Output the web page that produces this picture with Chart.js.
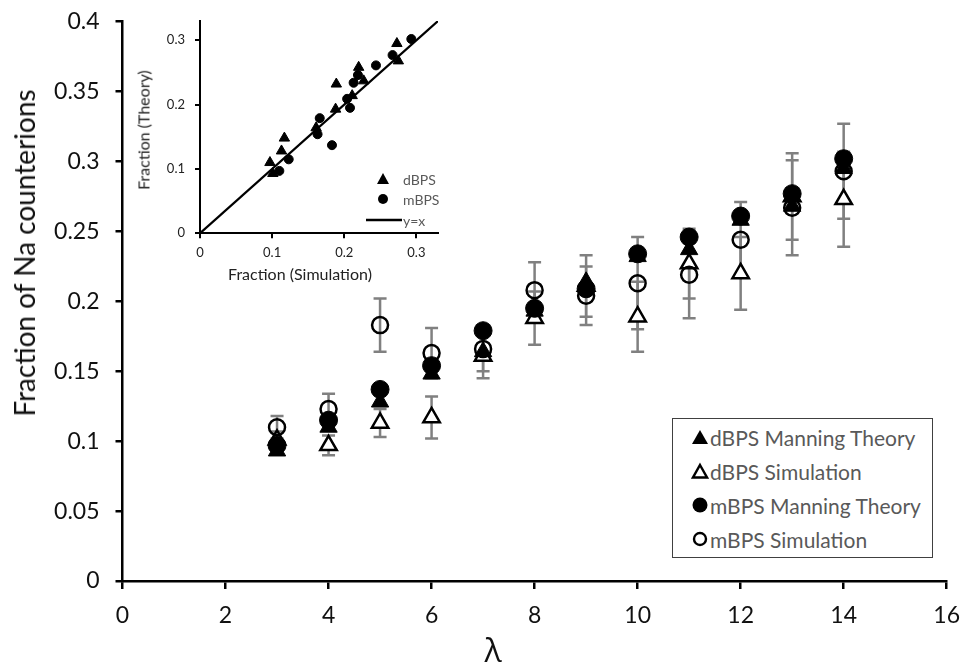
<!DOCTYPE html>
<html>
<head>
<meta charset="utf-8">
<title>Fraction of Na counterions</title>
<script src="https://cdn.jsdelivr.net/npm/chart.js@4.4.1/dist/chart.umd.min.js"></script>
<style>
  body { margin: 0; background: #fff; font-family: Lato, 'Open Sans', sans-serif; }
  #wrap { position: relative; width: 963px; height: 663px; overflow: hidden; }
  #mainBox { position: absolute; left: 0; top: 0; width: 963px; height: 663px; }
  #insetBox { position: absolute; left: 0; top: 0; width: 460px; height: 300px; pointer-events: none; }
  .lbl { position: absolute; white-space: nowrap; transform: translate(-50%, -50%); }
  .rot { transform: translate(-50%, -50%) rotate(-90deg); }
  #legend { position: absolute; left: 672px; top: 418px; width: 259px; height: 138px;
            border: 1.5px solid #404040; background: #fff; }
  #legend .row { position: absolute; left: 18px; height: 30px; display: flex; align-items: center;
                 font-size: 21px; color: #595959; }
  #legend svg { margin-right: 1px; }
  .mini { position: absolute; display: flex; align-items: center; font-size: 14px; color: #595959; }
</style>
</head>
<body>
<div id="wrap">
  <div id="mainBox"><canvas id="mainChart"></canvas></div>
  <div id="insetBox"><canvas id="insetChart"></canvas></div>

  <div class="lbl rot" style="left:24px; top:253px; font-size:28px; color:#111;">Fraction of Na counterions</div>
  <div class="lbl" style="left:493px; top:649px; font-size:32px; font-family:'Open Sans', sans-serif; color:#111;">λ</div>

  <div class="lbl rot" style="left:143px; top:130px; font-size:16px; color:#222;">Fraction (Theory)</div>
  <div class="lbl" style="left:300px; top:273px; font-size:16px; color:#222;">Fraction (Simulation)</div>

  <div class="mini" style="left:376px; top:169px; height:20px;">
    <svg width="14" height="14"><polygon points="7,1 13,12 1,12" fill="#000"/></svg>
    <span style="margin-left:13px;">dBPS</span>
  </div>
  <div class="mini" style="left:376px; top:189px; height:20px;">
    <svg width="14" height="14"><circle cx="7" cy="7" r="5" fill="#000"/></svg>
    <span style="margin-left:13px;">mBPS</span>
  </div>
  <div class="mini" style="left:366px; top:210px; height:20px;">
    <svg width="36" height="6"><line x1="0" y1="3" x2="36" y2="3" stroke="#000" stroke-width="2.5"/></svg>
    <span style="margin-left:1px;">y=x</span>
  </div>

  <div id="legend">
    <div class="row" style="top:3px;">
      <svg width="18" height="18"><polygon points="9,2 17,16 1,16" fill="#000"/></svg>dBPS Manning Theory
    </div>
    <div class="row" style="top:37px;">
      <svg width="18" height="18"><polygon points="9,3 16,15.5 2,15.5" fill="#fff" stroke="#000" stroke-width="2.4" stroke-linejoin="miter"/></svg>dBPS Simulation
    </div>
    <div class="row" style="top:71px;">
      <svg width="18" height="18"><circle cx="9" cy="9" r="7.5" fill="#000"/></svg>mBPS Manning Theory
    </div>
    <div class="row" style="top:105px;">
      <svg width="18" height="18"><circle cx="9" cy="9" r="6" fill="none" stroke="#000" stroke-width="2.4"/></svg>mBPS Simulation
    </div>
  </div>
</div>

<script>
(function () {
  'use strict';

  // line charge density (lambda) for each system
  var lambdaValues = [3, 4, 5, 6, 7, 8, 9, 10, 11, 12, 13, 14];

  // fraction of condensed Na counterions
  var dbpsTheory = [0.093, 0.110, 0.128, 0.148, 0.164, 0.193, 0.214, 0.232, 0.237, 0.258, 0.268, 0.295];
  var dbpsSim = [0.101, 0.097, 0.113, 0.117, 0.161, 0.188, 0.211, 0.189, 0.227, 0.220, 0.275, 0.273];
  var dbpsSimErr = [0.006, 0.007, 0.010, 0.015, 0.016, 0.019, 0.022, 0.025, 0.025, 0.026, 0.031, 0.034];
  var mbpsTheory = [0.097, 0.115, 0.137, 0.154, 0.179, 0.195, 0.209, 0.234, 0.246, 0.261, 0.277, 0.302];
  var mbpsSim = [0.110, 0.123, 0.183, 0.163, 0.166, 0.208, 0.204, 0.213, 0.219, 0.244, 0.267, 0.293];
  var mbpsSimErr = [0.008, 0.011, 0.019, 0.018, 0.016, 0.020, 0.021, 0.033, 0.031, 0.027, 0.034, 0.034];

  // axis ticks
  var mainXTicks = [0, 2, 4, 6, 8, 10, 12, 14, 16];
  var mainYTicks = [0, 0.05, 0.1, 0.15, 0.2, 0.25, 0.3, 0.35, 0.4];
  var insetTicks = [0, 0.1, 0.2, 0.3];
  var identityLine = [0, 0.33];

  function points(xs, ys) {
    return xs.map(function (x, i) { return { x: x, y: ys[i] }; });
  }

  function formatTick(value) {
    return String(parseFloat(Number(value).toFixed(2)));
  }

  function keepTicks(list) {
    return function (scale) {
      scale.ticks = list.map(function (v) { return { value: v }; });
    };
  }

  // fixed axis box size, no extra room for overhanging labels
  function fixedSize(prop, size) {
    return function (scale) {
      scale[prop] = size;
      scale.paddingLeft = 0;
      scale.paddingRight = 0;
      scale.paddingTop = 0;
      scale.paddingBottom = 0;
    };
  }

  var errorBarPlugin = {
    id: 'errorBars',
    beforeDatasetsDraw: function (chart) {
      var ctx = chart.ctx;
      var xScale = chart.scales.x;
      var yScale = chart.scales.y;
      chart.data.datasets.forEach(function (ds) {
        if (!ds.errorBars) return;
        ctx.save();
        ctx.strokeStyle = '#808080';
        ctx.lineWidth = 2.5;
        ds.data.forEach(function (pt, i) {
          var err = ds.errorBars[i];
          var px = xScale.getPixelForValue(pt.x);
          var top = yScale.getPixelForValue(pt.y + err);
          var bottom = yScale.getPixelForValue(pt.y - err);
          ctx.beginPath();
          ctx.moveTo(px, top);
          ctx.lineTo(px, bottom);
          ctx.moveTo(px - 6.5, top);
          ctx.lineTo(px + 6.5, top);
          ctx.moveTo(px - 6.5, bottom);
          ctx.lineTo(px + 6.5, bottom);
          ctx.stroke();
        });
        ctx.restore();
      });
    }
  };

  function renderMainChart() {
    var canvas = document.getElementById('mainChart');
    var tickFont = { family: 'Lato', size: 23 };

    new Chart(canvas, {
      type: 'scatter',
      data: {
        datasets: [{
          label: 'dBPS Manning Theory',
          data: points(lambdaValues, dbpsTheory),
          pointStyle: 'triangle',
          pointRadius: 10,
          backgroundColor: '#000',
          borderColor: '#000',
          borderWidth: 1,
          order: 3
        }, {
          label: 'dBPS Simulation',
          data: points(lambdaValues, dbpsSim),
          errorBars: dbpsSimErr,
          pointStyle: 'triangle',
          pointRadius: 9.5,
          backgroundColor: '#fff',
          borderColor: '#000',
          borderWidth: 2.5,
          order: 4
        }, {
          label: 'mBPS Manning Theory',
          data: points(lambdaValues, mbpsTheory),
          pointStyle: 'circle',
          pointRadius: 9,
          backgroundColor: '#000',
          borderColor: '#000',
          borderWidth: 1,
          order: 2
        }, {
          label: 'mBPS Simulation',
          data: points(lambdaValues, mbpsSim),
          errorBars: mbpsSimErr,
          pointStyle: 'circle',
          pointRadius: 8,
          backgroundColor: 'rgba(0,0,0,0)',
          borderColor: '#000',
          borderWidth: 2.5,
          order: 1
        }]
      },
      options: {
        responsive: true,
        maintainAspectRatio: false,
        animation: false,
        events: [],
        layout: { padding: { left: 0, top: 21.7, right: 16.3, bottom: 0 } },
        plugins: { legend: { display: false }, tooltip: { enabled: false } },
        scales: {
          x: {
            type: 'linear',
            min: 0,
            max: 16,
            afterFit: fixedSize('height', 82),
            afterBuildTicks: keepTicks(mainXTicks),
            border: { display: true, color: '#000', width: 2.5 },
            grid: { drawOnChartArea: false, drawTicks: true, tickLength: 8, color: '#000', lineWidth: 2.5 },
            ticks: { color: '#111', font: tickFont, padding: 13, maxRotation: 0, callback: formatTick }
          },
          y: {
            type: 'linear',
            min: 0,
            max: 0.4,
            afterFit: fixedSize('width', 122.5),
            afterBuildTicks: keepTicks(mainYTicks),
            border: { display: true, color: '#000', width: 2.5 },
            grid: { drawOnChartArea: false, drawTicks: true, tickLength: 7, color: '#000', lineWidth: 2.5 },
            ticks: { color: '#111', font: tickFont, padding: 16, callback: formatTick }
          }
        }
      },
      plugins: [errorBarPlugin]
    });
  }

  function renderInsetChart() {
    var canvas = document.getElementById('insetChart');
    var tickFont = { family: 'Lato', size: 13 };

    new Chart(canvas, {
      type: 'scatter',
      data: {
        datasets: [{
          label: 'dBPS',
          data: points(dbpsSim, dbpsTheory),
          pointStyle: 'triangle',
          pointRadius: 6,
          backgroundColor: '#000',
          borderColor: '#000',
          borderWidth: 1
        }, {
          label: 'mBPS',
          data: points(mbpsSim, mbpsTheory),
          pointStyle: 'circle',
          pointRadius: 4.5,
          backgroundColor: '#000',
          borderColor: '#000',
          borderWidth: 1
        }, {
          type: 'line',
          label: 'y=x',
          data: points(identityLine, identityLine),
          borderColor: '#000',
          borderWidth: 2.2,
          pointRadius: 0,
          fill: false
        }]
      },
      options: {
        responsive: true,
        maintainAspectRatio: false,
        animation: false,
        events: [],
        layout: { padding: { left: 0, top: 21, right: 22, bottom: 0 } },
        plugins: { legend: { display: false }, tooltip: { enabled: false } },
        scales: {
          x: {
            type: 'linear',
            min: 0,
            max: 0.33,
            afterFit: fixedSize('height', 66.7),
            afterBuildTicks: keepTicks(insetTicks),
            border: { display: true, color: '#000', width: 2 },
            grid: { drawOnChartArea: false, drawTicks: true, tickLength: 5, color: '#000', lineWidth: 2 },
            ticks: { color: '#222', font: tickFont, padding: 7, maxRotation: 0, callback: formatTick }
          },
          y: {
            type: 'linear',
            min: 0,
            max: 0.33,
            afterFit: fixedSize('width', 200),
            afterBuildTicks: keepTicks(insetTicks),
            border: { display: true, color: '#000', width: 2 },
            grid: { drawOnChartArea: false, drawTicks: true, tickLength: 5, color: '#000', lineWidth: 2 },
            ticks: { color: '#222', font: tickFont, padding: 10, callback: formatTick }
          }
        }
      }
    });
  }

  renderMainChart();
  renderInsetChart();
}());
</script>
</body>
</html>
